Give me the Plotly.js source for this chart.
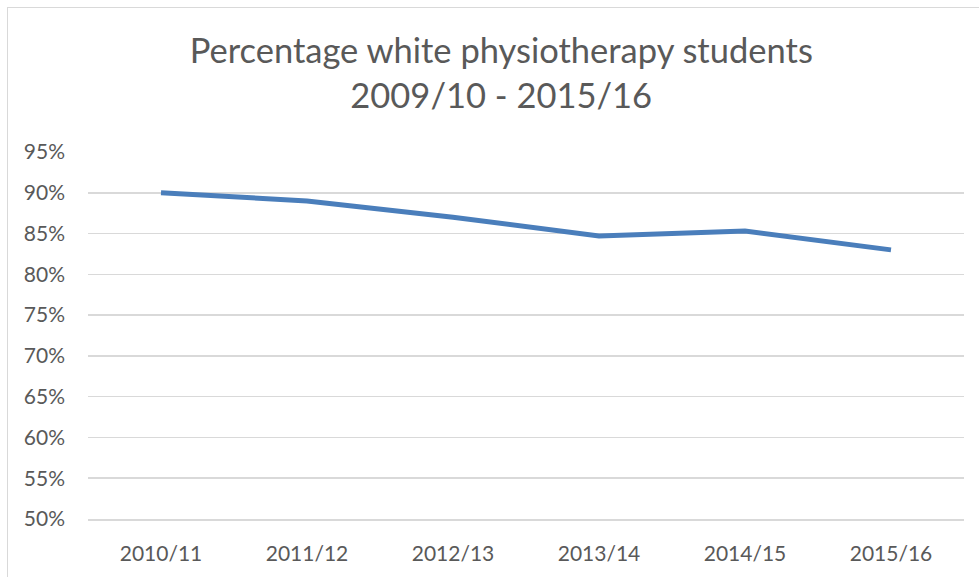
<!DOCTYPE html>
<html>
<head>
<meta charset="utf-8">
<script src="https://cdn.plot.ly/plotly-3.0.1.min.js"></script>
<style>
html,body{margin:0;padding:0;background:#fff;overflow:hidden;}
#frame{position:absolute;left:7px;top:7px;width:1200px;height:800px;border:1px solid #d9d9d9;box-sizing:border-box;}
#chart{position:absolute;left:0;top:0;width:979px;height:577px;}
</style>
</head>
<body>
<div id="frame"></div>
<div id="chart"></div>
<script>
const categories = ["2010/11","2011/12","2012/13","2013/14","2014/15","2015/16"];
const whitePct = [0.900, 0.890, 0.870, 0.847, 0.853, 0.830];
const titleLines = ["Percentage white physiotherapy students","2009/10 - 2015/16"];

const FONT = "Lato, 'Open Sans', sans-serif";
const trace = {
  type: 'scatter', mode: 'lines',
  x: categories, y: whitePct,
  line: {color: '#4a7ebb', width: 5},
  hoverinfo: 'x+y'
};
const layout = {
  width: 979, height: 577,
  paper_bgcolor: 'rgba(0,0,0,0)', plot_bgcolor: 'rgba(0,0,0,0)',
  margin: {l: 88, r: 15, t: 152, b: 58},
  showlegend: false,
  title: {text: titleLines.join('<br>'), font: {family: FONT, size: 34.5, color: '#595959'},
          x: 0.512, xref: 'container', xanchor: 'center', y: 0.89, yref: 'container', yanchor: 'top'},
  xaxis: {type: 'category', range: [-0.5, 5.5], showgrid: false, zeroline: false,
          showline: true, linecolor: '#d9d9d9', linewidth: 1.5,
          ticks: '', ticklabelstandoff: 15,
          tickfont: {family: FONT, size: 21, color: '#595959'}},
  yaxis: {range: [0.5, 0.95], dtick: 0.05, tick0: 0.5, tickformat: '.0%',
          showgrid: true, gridcolor: '#d9d9d9', gridwidth: 1.5, zeroline: false, showline: false,
          ticks: '', ticklabelstandoff: 22,
          tickfont: {family: FONT, size: 21, color: '#595959'}}
};
Plotly.newPlot('chart', [trace], layout, {displayModeBar: false, staticPlot: true});
</script>
</body>
</html>
